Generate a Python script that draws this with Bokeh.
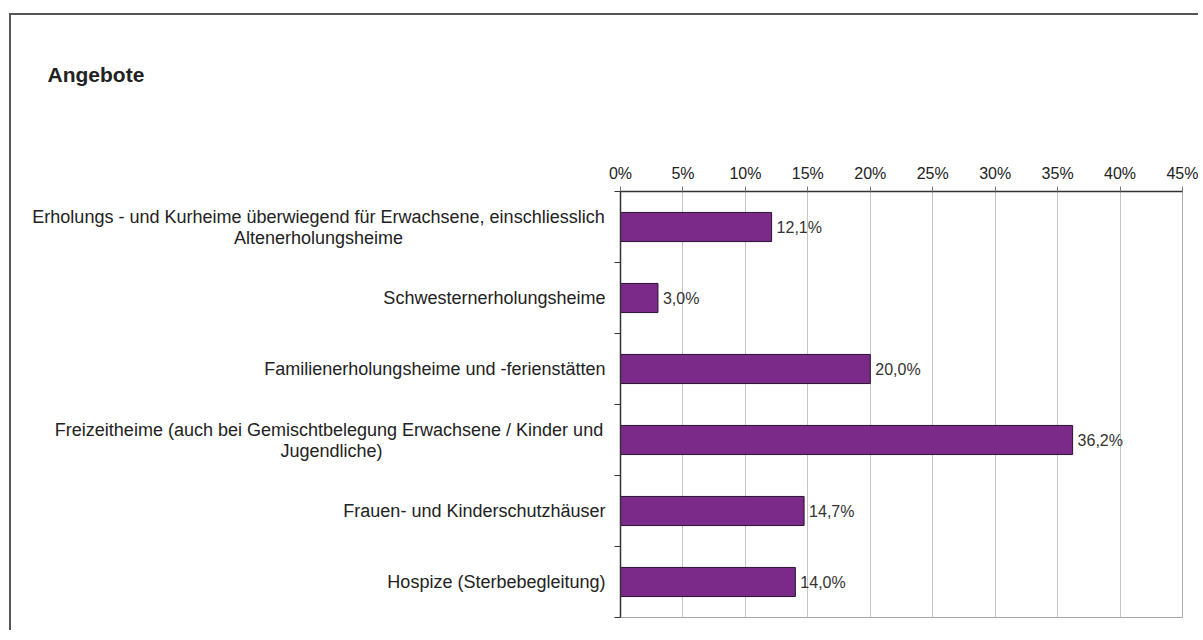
from bokeh.plotting import figure
from bokeh.layouts import row, column
from bokeh.models import Range1d, FixedTicker, PrintfTickFormatter
from bokeh.embed import file_html
from bokeh.resources import INLINE
from bokeh.core.properties import value

# ---- data ----
title_text = "Angebote"
categories = [
    "Erholungs - und Kurheime überwiegend für Erwachsene, einschliesslich\nAltenerholungsheime",
    "Schwesternerholungsheime",
    "Familienerholungsheime und -ferienstätten",
    "Freizeitheime  (auch bei Gemischtbelegung Erwachsene / Kinder und\nJugendliche)",
    "Frauen- und Kinderschutzhäuser",
    "Hospize (Sterbebegleitung)",
]
shares = [12.1, 3.0, 20.0, 36.2, 14.7, 14.0]
x_ticks = [0, 5, 10, 15, 20, 25, 30, 35, 40, 45]

# ---- styles ----
FONT = "Liberation Sans"
BAR_COLOR = "#7B2A89"
n = len(categories)
ypos = [n - i - 0.5 for i in range(n)]
value_labels = [f"{v:.1f}".replace(".", ",") + "%" for v in shares]

OFF_X, OFF_Y = 11, 15            # inner origin of the bordered chart area (window px)
TOTAL_W = 1203 - OFF_X - 5
TOTAL_H = 615
TITLE_H = 100
FRAME_L, FRAME_T, FRAME_R, FRAME_B = 620, 191, 1182, 617   # window px
AXIS_SPACE = 12
LW = FRAME_L - OFF_X - AXIS_SPACE          # width of the label figure
MW = TOTAL_W - LW                          # width of the chart figure
RH = TOTAL_H - TITLE_H                     # height of the row
row_top = OFF_Y + TITLE_H
MT = FRAME_T - row_top
MB = RH - (FRAME_B - row_top)
MR = OFF_X + TOTAL_W - FRAME_R
TITLE_BASELINE = 74

# ---------------- title strip ----------------
tf = figure(width=TOTAL_W, height=TITLE_H, output_backend="svg", toolbar_location=None,
            x_range=Range1d(0, TOTAL_W), y_range=Range1d(0, TITLE_H),
            x_axis_location=None, y_axis_location=None, min_border=0)
tf.outline_line_color = None
tf.grid.grid_line_color = None
tf.text(x=[47 - OFF_X], y=[row_top - TITLE_BASELINE], text=[title_text], text_align="left",
        text_baseline="alphabetic", text_font=value(FONT), text_font_size="21px",
        text_font_style="bold", text_color="#222222")

# ---------------- label figure (left) ----------------
lf = figure(width=LW, height=RH, output_backend="svg", toolbar_location=None,
            x_range=Range1d(0, LW), y_range=Range1d(0, n),
            x_axis_location=None, y_axis_location=None,
            min_border_left=0, min_border_right=0,
            min_border_top=MT, min_border_bottom=MB)
lf.outline_line_color = None
lf.grid.grid_line_color = None

label_right = 605 - OFF_X
wrap_centers = {0: 318 - OFF_X, 3: 331 - OFF_X}
lab_x, lab_align = [], []
for i, cat in enumerate(categories):
    if "\n" in cat:
        lab_x.append(wrap_centers[i])
        lab_align.append("center")
    else:
        lab_x.append(label_right)
        lab_align.append("right")
lf.text(x=lab_x, y=ypos, text=categories, text_align=lab_align,
        text_baseline="middle", text_line_height=1.05,
        text_font=value(FONT), text_font_size="18px", text_color="#222222")

# ---------------- chart figure (right) ----------------
p = figure(width=MW, height=RH, output_backend="svg", toolbar_location=None,
           x_range=Range1d(x_ticks[0], x_ticks[-1]), y_range=Range1d(0, n),
           x_axis_location="above",
           min_border_left=AXIS_SPACE, min_border_top=MT,
           min_border_right=MR, min_border_bottom=MB)
p.outline_line_color = "#a8a8a8"
p.outline_line_width = 1

xa = p.xaxis[0]
xa.ticker = FixedTicker(ticks=x_ticks)
xa.formatter = PrintfTickFormatter(format="%d%%")
xa.major_tick_out = 5
xa.major_tick_in = 0
xa.minor_tick_out = 0
xa.minor_tick_in = 0
xa.axis_line_color = "#333333"
xa.axis_line_width = 1.5
xa.major_tick_line_color = "#777777"
xa.major_label_text_font = FONT
xa.major_label_text_font_size = "16px"
xa.major_label_text_color = "#222222"
xa.major_label_standoff = 5

ya = p.yaxis[0]
ya.ticker = FixedTicker(ticks=list(range(n + 1)))
ya.major_tick_out = 6
ya.major_tick_in = 0
ya.minor_tick_out = 0
ya.minor_tick_in = 0
ya.axis_line_color = "#333333"
ya.axis_line_width = 1.5
ya.major_tick_line_color = "#333333"
ya.major_label_text_font_size = "0px"
ya.major_label_standoff = 0

p.xgrid.ticker = FixedTicker(ticks=x_ticks)
p.xgrid.grid_line_color = "#c4c4c4"
p.ygrid.grid_line_color = None

p.hbar(y=ypos, left=0, right=shares, height=0.41,
       fill_color=BAR_COLOR, line_color="#2b1230", line_width=1)

p.text(x=shares, y=ypos, text=value_labels, x_offset=5,
       text_align="left", text_baseline="middle",
       text_font=value(FONT), text_font_size="16px", text_color="#333333")

layout = column(tf, row(lf, p, spacing=0), spacing=0,
                styles={"margin-left": "9px", "margin-top": "13px",
                        "border-left": "2px solid #555555",
                        "border-top": "2px solid #555555"})

open("out.html", "w").write(file_html(layout, INLINE))
